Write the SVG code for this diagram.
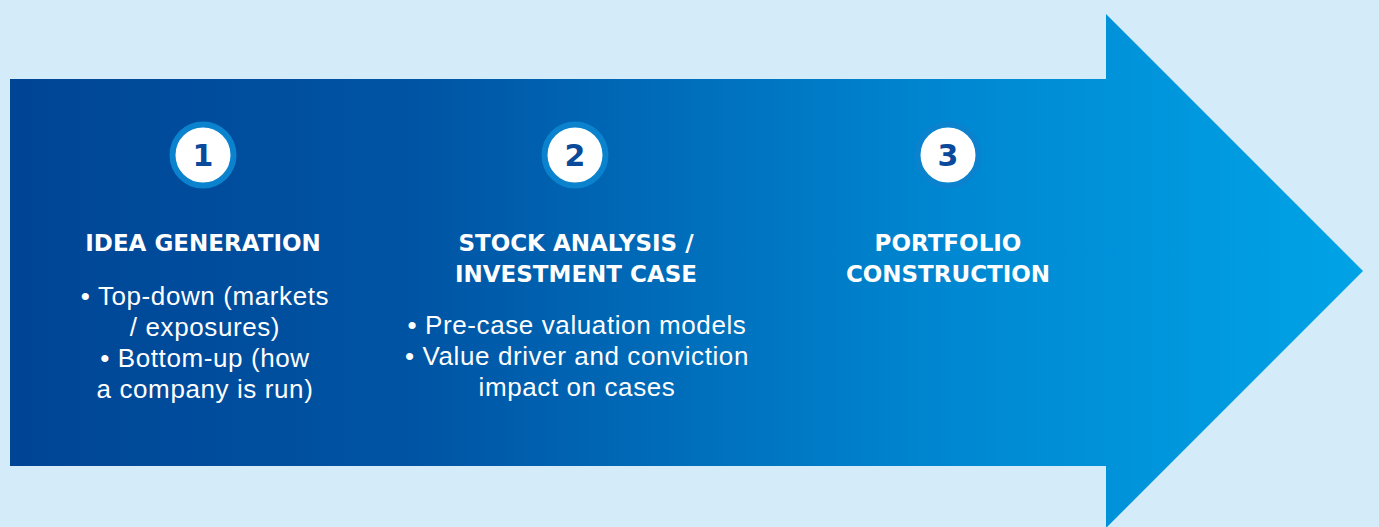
<svg xmlns="http://www.w3.org/2000/svg" width="1379" height="527" viewBox="0 0 1379 527">
<defs>
<linearGradient id="g" x1="10" y1="0" x2="1363" y2="0" gradientUnits="userSpaceOnUse">
<stop offset="0" stop-color="#004595"/>
<stop offset="0.3" stop-color="#0054A4"/>
<stop offset="0.7" stop-color="#0088D2"/>
<stop offset="1" stop-color="#00A3E6"/>
</linearGradient>
<style>
.t{font-family:"DejaVu Sans","Liberation Sans",sans-serif;font-weight:700;font-size:23px;fill:#fff;text-anchor:middle}
.b{font-family:"Liberation Sans",Arial,sans-serif;font-weight:400;font-size:26px;letter-spacing:0.6px;fill:#fff;text-anchor:middle}
.c{fill:#fff;stroke:#0A82CD;stroke-width:6}
.n{font-family:"DejaVu Sans","Liberation Sans",sans-serif;font-weight:700;font-size:30px;fill:#0B4A9A;text-anchor:middle}
</style>
</defs>
<rect width="1379" height="527" fill="#D4EBFA"/>
<g id="connectors">
<path d="M10 79 H1106 V14 L1363 271 L1106 528 V466 H10 Z" fill="url(#g)"/>
</g>
<g id="step1">
<circle class="c" cx="203" cy="155" r="30.5"/>
<text class="n" x="203" y="166">1</text>
<text class="t" x="203" y="251">IDEA GENERATION</text>
<text class="b" x="205" y="305">• Top-down (markets</text>
<text class="b" x="205" y="336">/ exposures)</text>
<text class="b" x="205" y="367">• Bottom-up (how</text>
<text class="b" x="205" y="398">a company is run)</text>
</g>
<g id="step2">
<circle class="c" cx="575" cy="155" r="30.5"/>
<text class="n" x="575" y="166">2</text>
<text class="t" x="576" y="251">STOCK ANALYSIS /</text>
<text class="t" x="576" y="282">INVESTMENT CASE</text>
<text class="b" x="577" y="334">• Pre-case valuation models</text>
<text class="b" x="577" y="365">• Value driver and conviction</text>
<text class="b" x="577" y="396">impact on cases</text>
</g>
<g id="step3">
<circle class="c" cx="948" cy="155" r="30.5"/>
<text class="n" x="948" y="166">3</text>
<text class="t" x="948" y="251">PORTFOLIO</text>
<text class="t" x="948" y="282">CONSTRUCTION</text>
</g>
</svg>
